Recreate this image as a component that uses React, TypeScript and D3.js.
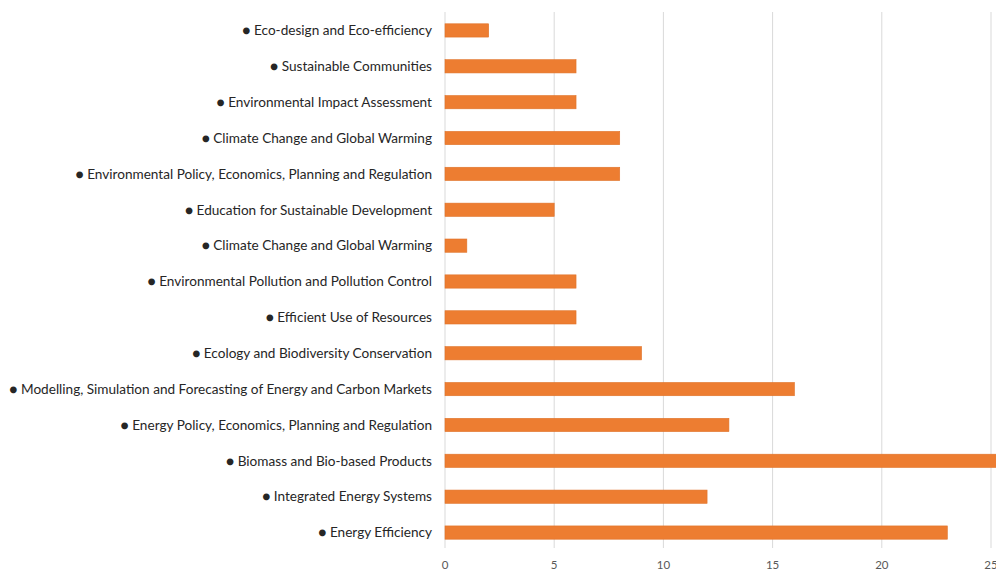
import React, { useRef, useEffect } from "react"
import { select, scaleLinear, scaleBand } from "d3"

// categories top to bottom
const topics = [
  "Eco-design and Eco-efficiency",
  "Sustainable Communities",
  "Environmental Impact Assessment",
  "Climate Change and Global Warming",
  "Environmental Policy, Economics, Planning and Regulation",
  "Education for Sustainable Development",
  "Climate Change and Global Warming ",
  "Environmental Pollution and Pollution Control",
  "Efficient Use of Resources",
  "Ecology and Biodiversity Conservation",
  "Modelling, Simulation and Forecasting of Energy and Carbon Markets",
  "Energy Policy, Economics, Planning and Regulation",
  "Biomass and Bio-based Products",
  "Integrated Energy Systems",
  "Energy Efficiency",
]

const counts = [2, 6, 6, 8, 8, 5, 1, 6, 6, 9, 16, 13, 26, 12, 23]

const xTicks = [0, 5, 10, 15, 20, 25]

const W = 996
const H = 572

function App() {
  const svgRef = useRef<SVGSVGElement>(null)

  useEffect(() => {
    const svg = select(svgRef.current)
    svg.selectAll("*").remove()

    const x = scaleLinear().domain([0, 25]).range([445, 991])
    const y = scaleBand<number>()
      .domain(topics.map((_, i) => i))
      .range([12, 550])
      .paddingInner(0.63)
      .paddingOuter(0.315)

    // gridlines
    svg.append("g")
      .selectAll("line")
      .data(xTicks)
      .join("line")
      .attr("x1", d => x(d))
      .attr("x2", d => x(d))
      .attr("y1", 12)
      .attr("y2", 548)
      .attr("stroke", "#d9d9d9")
      .attr("stroke-width", 1)

    // tick labels
    svg.append("g")
      .selectAll("text")
      .data(xTicks)
      .join("text")
      .attr("x", d => x(d))
      .attr("y", 569)
      .attr("text-anchor", "middle")
      .attr("font-family", "Lato, 'Open Sans', sans-serif")
      .attr("font-size", 11.5)
      .attr("fill", "#595959")
      .text(d => d)

    // bars
    svg.append("g")
      .selectAll("rect")
      .data(counts)
      .join("rect")
      .attr("x", x(0))
      .attr("y", (_, i) => y(i)! + 0.5)
      .attr("width", d => x(d) - x(0))
      .attr("height", y.bandwidth())
      .attr("fill", "#ED7D31")
      .attr("stroke", "#E0732A")
      .attr("stroke-width", 0.6)

    // category labels
    svg.append("g")
      .selectAll("text")
      .data(topics)
      .join("text")
      .attr("x", 432)
      .attr("y", (_, i) => y(i)! + y.bandwidth() / 2 + 0.5)
      .attr("dy", "0.35em")
      .attr("text-anchor", "end")
      .attr("font-family", "Lato, 'Open Sans', sans-serif")
      .attr("font-size", 13.6)
      .attr("fill", "#262626")
      .text(d => "\u25CF " + d.trim())
  }, [])

  return (
    <svg
      ref={svgRef}
      width={W}
      height={H}
      style={{ position: "absolute", left: 0, top: 0, background: "#fff" }}
    />
  )
}

export default App
